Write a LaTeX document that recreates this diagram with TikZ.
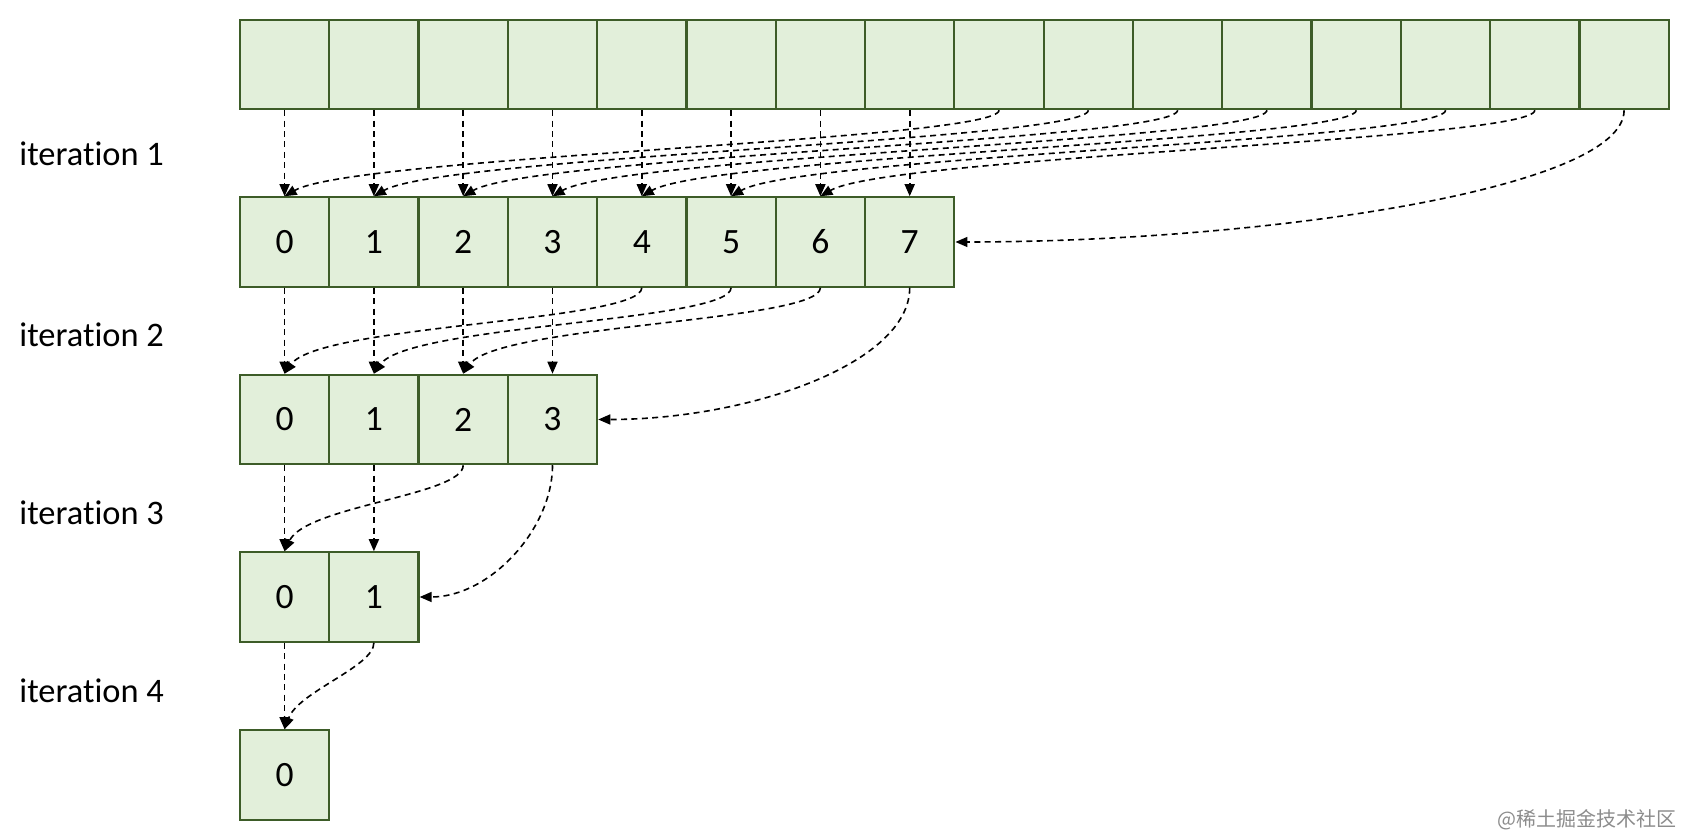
\documentclass[tikz,border=0pt]{standalone}
\usepackage{fontspec}
\setmainfont{Carlito}[Ligatures=NoCommon]
\newfontfamily\cjkfont{Noto Sans CJK SC}
\usepackage{xcolor}
\usepackage{tikz}
\usetikzlibrary{arrows.meta,positioning}
\definecolor{cellfill}{HTML}{E2EFDA}
\definecolor{cellline}{HTML}{3D5C28}
\tikzset{
  cell/.style={rectangle,draw=cellline,fill=cellfill,line width=1.1pt,
               minimum width=44.65pt,minimum height=44.65pt,inner sep=0pt,
               font=\fontsize{17.8}{20}\selectfont},
  iter/.style={anchor=west,inner sep=0pt,font=\fontsize{17.2}{20}\selectfont},
  arr/.style={-{Triangle[length=6pt,width=5pt]},draw=black,line width=0.8pt,
              dash pattern=on 3pt off 2.2pt},
  wmark/.style={anchor=east,inner sep=0pt,text=black!45,font=\cjkfont\fontsize{10}{12}\selectfont},
}

\begin{document}
\begin{tikzpicture}
  \useasboundingbox (0,0) rectangle (843pt,-419pt);
  \foreach \i in {0,...,15} {
    \node[cell] (a\i) at (142.3pt+\i*44.65pt, -32.25pt) {};
  }
  \foreach \i in {0,...,7} {
    \node[cell] (b\i) at (142.3pt+\i*44.65pt, -121pt) {\i};
  }
  \foreach \i in {0,...,3} {
    \node[cell] (c\i) at (142.3pt+\i*44.65pt, -209.75pt) {\i};
  }
  \foreach \i in {0,1} {
    \node[cell] (d\i) at (142.3pt+\i*44.65pt, -298.5pt) {\i};
  }
  \node[cell] (e0) at (142.3pt, -387.5pt) {0};
  \node[iter] (it1) at (9.5pt,-76.8pt) {iteration 1};
  \node[iter] (it2) at (9.5pt,-167.6pt) {iteration 2};
  \node[iter] (it3) at (9.5pt,-256.4pt) {iteration 3};
  \node[iter] (it4) at (9.5pt,-345.2pt) {iteration 4};
  \node[wmark] (wm) at (838.5pt,-410pt) {@稀土掘金技术社区};
  % iteration 1
  \foreach \i in {0,...,7} {
    \draw[arr] (a\i) -- (b\i);
  }
  \foreach \i [evaluate=\i as \j using int(\i+8)] in {0,...,6} {
    \draw[arr] (a\j.south) to[out=-90,in=30,out distance=15pt,in distance=40pt] (b\i.north);
  }
  \draw[arr] (a15.south) to[out=-90,in=0,out distance=40pt,in distance=150pt] (b7.east);
  % iteration 2
  \foreach \i in {0,...,3} {
    \draw[arr] (b\i) -- (c\i);
  }
  \foreach \i [evaluate=\i as \j using int(\i+4)] in {0,...,2} {
    \draw[arr] (b\j.south) to[out=-90,in=55,out distance=17pt,in distance=30pt] (c\i.north);
  }
  \draw[arr] (b7.south) to[out=-90,in=0,out distance=38pt,in distance=75pt] (c3.east);
  % iteration 3
  \foreach \i in {0,1} {
    \draw[arr] (c\i) -- (d\i);
  }
  \draw[arr] (c2.south) to[out=-90,in=65,out distance=15pt,in distance=25pt] (d0.north);
  \draw[arr] (c3.south) to[out=-90,in=0,out distance=32pt,in distance=35pt] (d1.east);
  % iteration 4
  \draw[arr] (d0) -- (e0);
  \draw[arr] (d1.south) to[out=-90,in=70,out distance=12pt,in distance=20pt] (e0.north);
\end{tikzpicture}
\end{document}
